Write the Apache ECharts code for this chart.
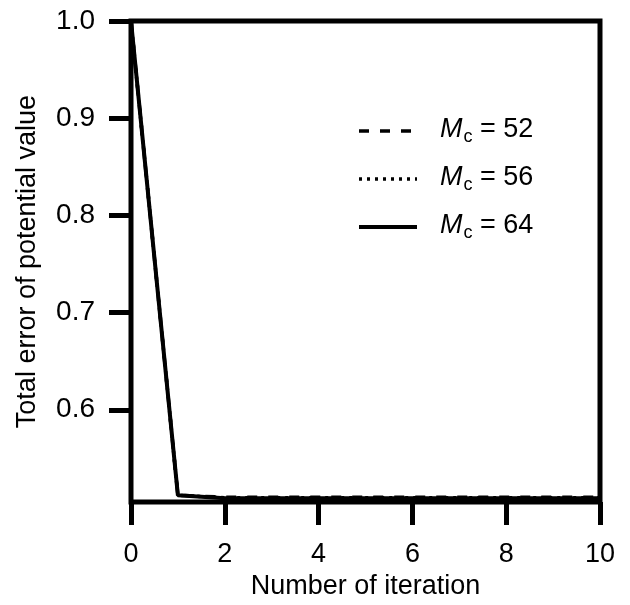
<!DOCTYPE html>
<html>
<head>
<meta charset="utf-8">
<script src="https://cdn.jsdelivr.net/npm/echarts@6/dist/echarts.min.js"></script>
<style>
html, body { margin: 0; padding: 0; background: #fff; }
#chart { width: 630px; height: 605px; }
</style>
</head>
<body>
<div id="chart"></div>
<script>
// iteration number on x, total error on y
var iterations = [0, 1, 2, 3, 4, 5, 6, 7, 8, 9, 10];
var err52 = [1.0, 0.512, 0.510, 0.510, 0.510, 0.510, 0.510, 0.510, 0.510, 0.510, 0.510];
var err56 = [1.0, 0.512, 0.5095, 0.5095, 0.5095, 0.5095, 0.5095, 0.5095, 0.5095, 0.5095, 0.5095];
var err64 = [1.0, 0.512, 0.509, 0.509, 0.509, 0.509, 0.509, 0.509, 0.509, 0.509, 0.509];
var yTicks = [0.6, 0.7, 0.8, 0.9, 1.0];
var seriesNames = ['52', '56', '64'];
var dashes = [[10, 11], [3, 5], 'solid'];

function pairs(vals) {
    var out = [];
    for (var i = 0; i < iterations.length; i++) {
        out.push([iterations[i], vals[i]]);
    }
    return out;
}

var chart = echarts.init(document.getElementById('chart'));
var font = 'Liberation Sans, Arial, sans-serif';
var fs = 27;

var legendData = seriesNames.map(function (n, i) {
    return { name: n, lineStyle: { type: dashes[i], width: i === 2 ? 4 : 3.5, color: '#000', cap: 'butt' } };
});

var option = {
    animation: false,
    color: ['#000', '#000', '#000'],
    textStyle: { fontFamily: font, color: '#000' },
    grid: {
        left: 131, right: 30, top: 21, bottom: 100,
        show: true, borderColor: '#000', borderWidth: 5
    },
    legend: {
        orient: 'vertical',
        left: 352, top: 103,
        itemWidth: 58, itemHeight: 20, itemGap: 10,
        data: legendData,
        itemStyle: { opacity: 0 },
        formatter: function (name) {
            return '{i|M}{s|c}{n| = ' + name + '}';
        },
        textStyle: {
            padding: [0, 0, 0, 18],
            rich: {
                i: { fontSize: fs, fontStyle: 'italic', fontFamily: font, color: '#000', lineHeight: 30, verticalAlign: 'top' },
                s: { fontSize: 18, fontFamily: font, color: '#000', lineHeight: 18, verticalAlign: 'bottom', padding: [20, 0, 0, 1] },
                n: { fontSize: fs, fontFamily: font, color: '#000', lineHeight: 30, verticalAlign: 'top' }
            }
        }
    },
    xAxis: {
        type: 'value', min: 0, max: 10, interval: 2,
        name: 'Number of iteration', nameLocation: 'middle', nameGap: 68,
        nameTextStyle: { fontSize: fs, color: '#000' },
        axisLine: { show: false },
        axisTick: { show: true, length: 23, lineStyle: { color: '#000', width: 5 } },
        axisLabel: { fontSize: fs, color: '#000', margin: 39 },
        splitLine: { show: false }
    },
    yAxis: {
        type: 'value', min: 0.505, max: 1.0,
        name: 'Total error of potential value', nameLocation: 'middle', nameGap: 90,
        nameTextStyle: { fontSize: fs, color: '#000' },
        axisLine: { show: false },
        axisTick: { show: true, length: 22, customValues: yTicks, lineStyle: { color: '#000', width: 5 } },
        axisLabel: {
            fontSize: 28, color: '#000', margin: 36, customValues: yTicks,
            formatter: function (v) { return v.toFixed(1); }
        },
        splitLine: { show: false }
    },
    series: [
        {
            name: '52', type: 'line', data: pairs(err52), symbol: 'none', clip: false,
            lineStyle: { color: '#000', width: 3.5, type: dashes[0], cap: 'butt' }
        },
        {
            name: '56', type: 'line', data: pairs(err56), symbol: 'none', clip: false,
            lineStyle: { color: '#000', width: 3.5, type: dashes[1], cap: 'butt' }
        },
        {
            name: '64', type: 'line', data: pairs(err64), symbol: 'none', clip: false,
            lineStyle: { color: '#000', width: 4, type: dashes[2] }
        }
    ]
};

chart.setOption(option);
</script>
</body>
</html>
